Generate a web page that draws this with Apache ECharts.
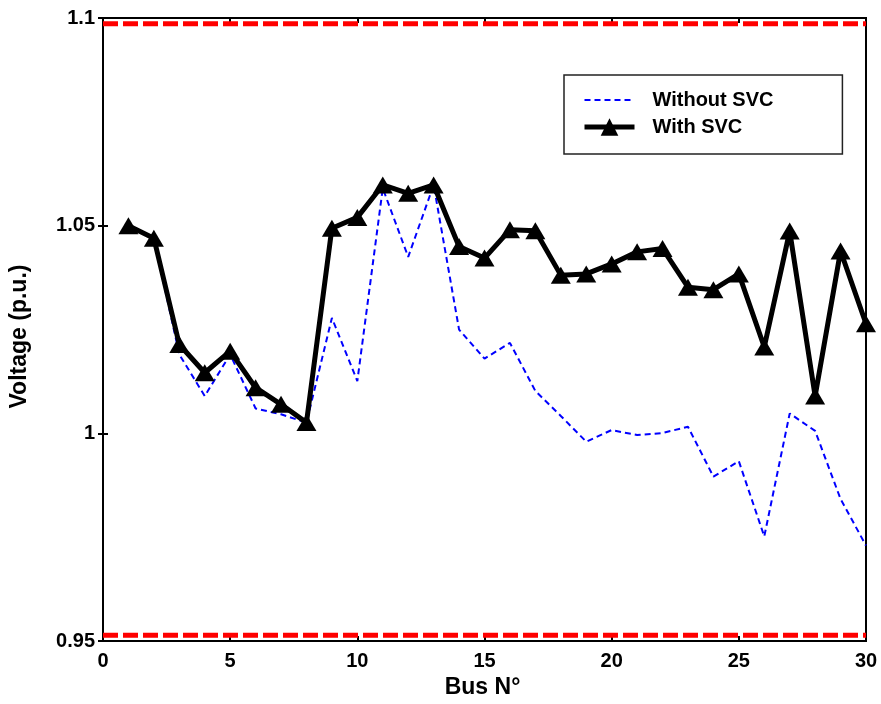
<!DOCTYPE html>
<html>
<head>
<meta charset="utf-8">
<script src="https://cdn.jsdelivr.net/npm/echarts@6/dist/echarts.min.js"></script>
<style>
html, body { margin: 0; padding: 0; background: #fff; }
#chart { width: 881px; height: 704px; }
</style>
</head>
<body>
<div id="chart"></div>
<script>
var buses = [1,2,3,4,5,6,7,8,9,10,11,12,13,14,15,16,17,18,19,20,21,22,23,24,25,26,27,28,29,30];
var withoutSvc = [1.050,1.047,1.019,1.009,1.019,1.006,1.0046,1.0026,1.0278,1.0126,
    1.059,1.0425,1.0598,1.025,1.018,1.0218,1.0102,1.0042,0.998,1.0008,
    0.9996,1.0001,1.0016,0.9896,0.9933,0.9752,1.0048,1.0006,0.9842,0.973];
var withSvc = [1.050,1.047,1.0214,1.0146,1.0198,1.011,1.007,1.0026,1.0494,1.052,
    1.0598,1.0578,1.0598,1.045,1.0422,1.049,1.0488,1.0381,1.0384,1.0408,
    1.0437,1.0445,1.0352,1.0346,1.0384,1.0208,1.0487,1.009,1.0439,1.0264];
var upperLimit = 1.0986;
var lowerLimit = 0.9514;
var xRange = [0, 30];

var font = 'Liberation Sans, Arial, Helvetica, sans-serif';

function pairs(xs, ys) {
    return xs.map(function (x, i) { return [x, ys[i]]; });
}

var chart = echarts.init(document.getElementById('chart'));

var option = {
    animation: false,
    backgroundColor: '#fff',
    textStyle: { fontFamily: font },
    grid: {
        left: 100, right: 15, top: 18, bottom: 59,
        show: true, borderColor: '#000', borderWidth: 2
    },
    legend: {
        data: [
            // no marker on the dashed entry, just the line
            { name: 'Without SVC', itemStyle: { color: 'rgba(0,0,0,0)', borderWidth: 0 } },
            { name: 'With SVC', lineStyle: { width: 5 } }
        ],
        orient: 'vertical',
        left: 564, top: 75,
        padding: [15, 69, 17, 18],
        itemGap: 7,
        itemWidth: 50, itemHeight: 22,
        backgroundColor: '#fff',
        borderColor: '#222', borderWidth: 1.5,
        textStyle: { fontFamily: font, fontSize: 20, fontWeight: 'bold', color: '#000', padding: [0, 0, 0, 13] }
    },
    xAxis: [{
        type: 'value', min: 0, max: 30, interval: 5,
        name: 'Bus N°', nameLocation: 'middle', nameGap: 33,
        nameTextStyle: { fontFamily: font, fontSize: 23, fontWeight: 'bold', color: '#000', padding: [0, 4, 0, 0] },
        axisLine: { lineStyle: { color: '#000', width: 2 } },
        axisTick: { inside: true, length: 5, lineStyle: { color: '#000', width: 2 } },
        axisLabel: { fontFamily: font, fontSize: 20, fontWeight: 'bold', color: '#000', margin: 10 },
        splitLine: { show: false }
    }, {
        type: 'value', min: 0, max: 30, interval: 5, position: 'top',
        axisLine: { lineStyle: { color: '#000', width: 2 } },
        axisTick: { inside: true, length: 5, lineStyle: { color: '#000', width: 2 } },
        axisLabel: { show: false }, splitLine: { show: false }
    }],
    yAxis: [{
        type: 'value', min: 0.95, max: 1.1, interval: 0.05,
        name: 'Voltage (p.u.)', nameLocation: 'middle', nameGap: 72, nameRotate: 90,
        nameTextStyle: { fontFamily: font, fontSize: 23, fontWeight: 'bold', color: '#000', padding: [0, 14, 0, 0] },
        axisLine: { show: true, lineStyle: { color: '#000', width: 2 } },
        axisTick: { show: true, inside: true, length: 5, lineStyle: { color: '#000', width: 2 } },
        axisLabel: { fontFamily: font, fontSize: 20, fontWeight: 'bold', color: '#000', margin: 8 },
        splitLine: { show: false }
    }, {
        type: 'value', min: 0.95, max: 1.1, interval: 0.05, position: 'right',
        axisLine: { show: true, lineStyle: { color: '#000', width: 2 } },
        axisTick: { show: true, inside: true, length: 5, lineStyle: { color: '#000', width: 2 } },
        axisLabel: { show: false }, splitLine: { show: false }
    }],
    series: [
        {
            name: 'upper limit', type: 'line', silent: true, symbol: 'none',
            data: [[xRange[0], upperLimit], [xRange[1], upperLimit]],
            lineStyle: { color: '#ff0000', width: 5, type: [15, 5] }
        },
        {
            name: 'lower limit', type: 'line', silent: true, symbol: 'none',
            data: [[xRange[0], lowerLimit], [xRange[1], lowerLimit]],
            lineStyle: { color: '#ff0000', width: 5, type: [15, 5] }
        },
        {
            name: 'Without SVC', type: 'line', symbol: 'none',
            data: pairs(buses, withoutSvc),
            itemStyle: { color: '#0000ff' },
            lineStyle: { color: '#0000ff', width: 2, type: [6, 4] }
        },
        {
            name: 'With SVC', type: 'line', symbol: 'triangle', symbolSize: [20, 17],
            data: pairs(buses, withSvc),
            itemStyle: { color: '#000' },
            lineStyle: { color: '#000', width: 5 }
        }
    ]
};
chart.setOption(option);
</script>
</body>
</html>
